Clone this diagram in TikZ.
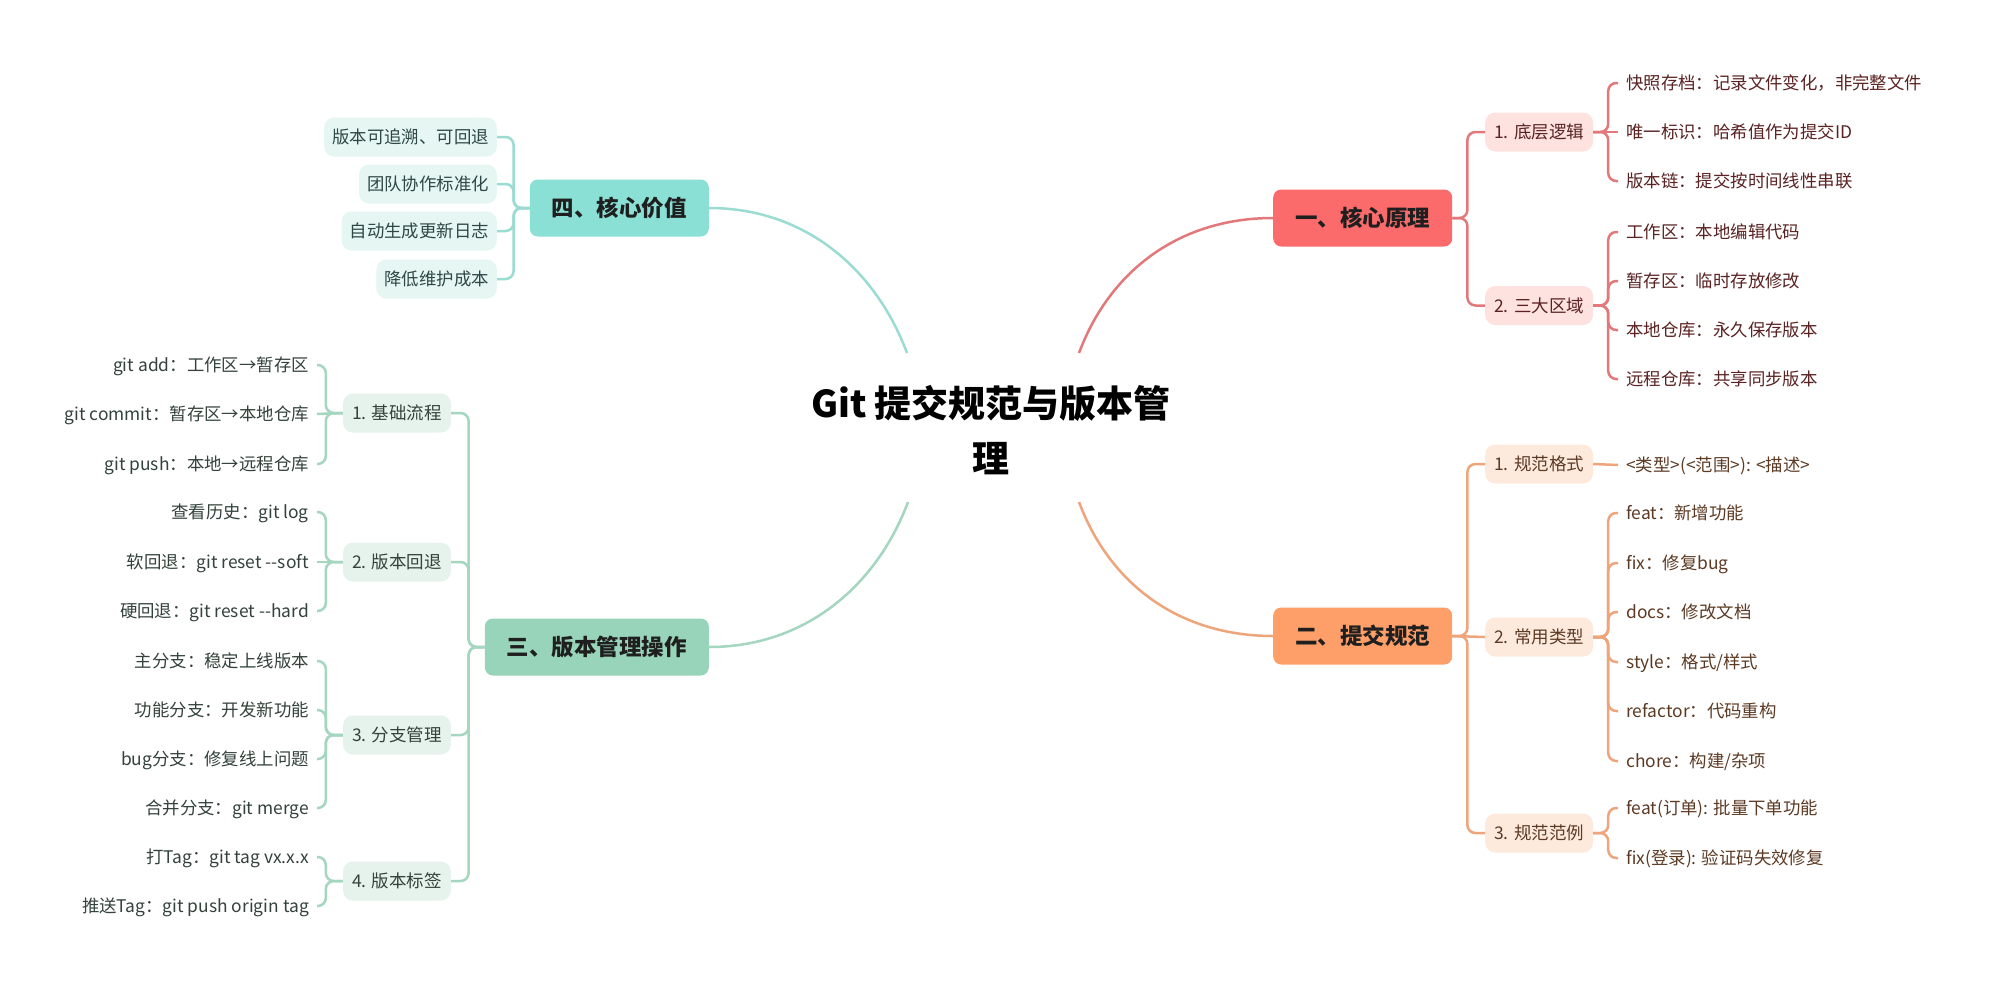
\documentclass[tikz,border=0pt]{standalone}
\usepackage{fontspec}
\setmainfont{Noto Sans CJK SC}
\usepackage{xcolor}
\usetikzlibrary{positioning, calc}
\definecolor{redmain}{HTML}{FC6B6B}
\definecolor{redsub}{HTML}{FDE2E0}
\definecolor{redwire}{HTML}{E2787A}
\definecolor{redtext}{HTML}{5A2222}
\definecolor{orangemain}{HTML}{FE9F69}
\definecolor{orangesub}{HTML}{FDEADD}
\definecolor{orangewire}{HTML}{EEA57C}
\definecolor{orangetext}{HTML}{5C3A24}
\definecolor{tealmain}{HTML}{8AE0D5}
\definecolor{tealsub}{HTML}{E6F6F3}
\definecolor{tealwire}{HTML}{9ADCD2}
\definecolor{tealtext}{HTML}{2E4845}
\definecolor{greenmain}{HTML}{98D4B9}
\definecolor{greensub}{HTML}{E6F3EC}
\definecolor{greenwire}{HTML}{A4D6C0}
\definecolor{greentext}{HTML}{33423B}
\tikzset{
    root/.style={font=\fontsize{37}{55}\selectfont\bfseries, align=center, text=black},
    branch/.style={rounded corners=8pt, minimum height=57pt, inner xsep=22pt, inner ysep=0pt, text height=19pt, text depth=2pt, font=\fontsize{22.5}{27}\selectfont\bfseries, text=black!88},
    topic/.style={rounded corners=10pt, minimum height=39pt, inner xsep=9pt, inner ysep=0pt, text height=15pt, text depth=2pt, font=\fontsize{17.5}{21}\selectfont},
    leaf/.style={rounded corners=10pt, minimum height=39pt, inner xsep=8pt, inner ysep=0pt, text height=15pt, text depth=2pt, font=\fontsize{17.4}{21}\selectfont},
    redlink/.style={draw=redwire, line width=2.5pt, rounded corners=8pt},
    orangelink/.style={draw=orangewire, line width=2.5pt, rounded corners=8pt},
    teallink/.style={draw=tealwire, line width=2.5pt, rounded corners=8pt},
    greenlink/.style={draw=greenwire, line width=2.5pt, rounded corners=8pt}
}
\begin{document}
\begin{tikzpicture}[x=1pt, y=-1pt]
\path[use as bounding box, fill=white] (0,0) rectangle (1993,983);

% Central topic
\node[root] (core) at (991,430) {Git 提交规范与版本管\\理};
\coordinate (c1) at (1079,353);
\coordinate (c2) at (1079,502);
\coordinate (c3) at (907,353);
\coordinate (c4) at (908,502);

% Branch 1: core principle
\node[branch, fill=redmain, anchor=west] (b1) at (1273,218) {一、核心原理};
\node[topic, fill=redsub, text=redtext, anchor=west] (b1a) at (1485,132) {1. 底层逻辑};
\node[topic, fill=redsub, text=redtext, anchor=west] (b1b) at (1485,305.5) {2. 三大区域};
\node[leaf, text=redtext, anchor=west] (r1) at (1618,83) {快照存档：记录文件变化，非完整文件};
\node[leaf, text=redtext, anchor=west] (r2) at (1618,132) {唯一标识：哈希值作为提交ID};
\node[leaf, text=redtext, anchor=west] (r3) at (1618,181) {版本链：提交按时间线性串联};
\node[leaf, text=redtext, anchor=west] (r4) at (1618,232) {工作区：本地编辑代码};
\node[leaf, text=redtext, anchor=west] (r5) at (1618,281) {暂存区：临时存放修改};
\node[leaf, text=redtext, anchor=west] (r6) at (1618,330) {本地仓库：永久保存版本};
\node[leaf, text=redtext, anchor=west] (r7) at (1618,379) {远程仓库：共享同步版本};

\draw[redlink] (c1) .. controls (1110,270) and (1180,218) .. (b1.west);
\draw[redlink] (b1.east) -- +(15,0) |- (b1a.west);
\draw[redlink] (b1.east) -- +(15,0) |- (b1b.west);
\draw[redlink] (b1a.east) -- +(15,0) |- (r1.west);
\draw[redlink] (b1a.east) -- (r2.west);
\draw[redlink] (b1a.east) -- +(15,0) |- (r3.west);
\draw[redlink] (b1b.east) -- +(15,0) |- (r4.west);
\draw[redlink] (b1b.east) -- +(15,0) |- (r5.west);
\draw[redlink] (b1b.east) -- +(15,0) |- (r6.west);
\draw[redlink] (b1b.east) -- +(15,0) |- (r7.west);

% Branch 2: commit convention
\node[branch, fill=orangemain, anchor=west] (b2) at (1273,636) {二、提交规范};
\node[topic, fill=orangesub, text=orangetext, anchor=west] (b2a) at (1485,464) {1. 规范格式};
\node[topic, fill=orangesub, text=orangetext, anchor=west] (b2b) at (1485,637) {2. 常用类型};
\node[topic, fill=orangesub, text=orangetext, anchor=west] (b2c) at (1485,833) {3. 规范范例};
\node[leaf, text=orangetext, anchor=west] (o1) at (1618,465) {<类型>(<范围>): <描述>};
\node[leaf, text=orangetext, anchor=west] (o2) at (1618,513) {feat：新增功能};
\node[leaf, text=orangetext, anchor=west] (o3) at (1618,563) {fix：修复bug};
\node[leaf, text=orangetext, anchor=west] (o4) at (1618,612) {docs：修改文档};
\node[leaf, text=orangetext, anchor=west] (o5) at (1618,662) {style：格式/样式};
\node[leaf, text=orangetext, anchor=west] (o6) at (1618,711) {refactor：代码重构};
\node[leaf, text=orangetext, anchor=west] (o7) at (1618,761) {chore：构建/杂项};
\node[leaf, text=orangetext, anchor=west] (o8) at (1618,808) {feat(订单): 批量下单功能};
\node[leaf, text=orangetext, anchor=west] (o9) at (1618,858) {fix(登录): 验证码失效修复};

\draw[orangelink] (c2) .. controls (1110,585) and (1180,636) .. (b2.west);
\draw[orangelink] (b2.east) -- +(15,0) |- (b2a.west);
\draw[orangelink] (b2.east) -- (b2b.west);
\draw[orangelink] (b2.east) -- +(15,0) |- (b2c.west);
\draw[orangelink] (b2a.east) -- (o1.west);
\draw[orangelink] (b2b.east) -- +(15,0) |- (o2.west);
\draw[orangelink] (b2b.east) -- +(15,0) |- (o3.west);
\draw[orangelink] (b2b.east) -- +(15,0) |- (o4.west);
\draw[orangelink] (b2b.east) -- +(15,0) |- (o5.west);
\draw[orangelink] (b2b.east) -- +(15,0) |- (o6.west);
\draw[orangelink] (b2b.east) -- +(15,0) |- (o7.west);
\draw[orangelink] (b2c.east) -- +(15,0) |- (o8.west);
\draw[orangelink] (b2c.east) -- +(15,0) |- (o9.west);

% Branch 4: core value
\node[branch, fill=tealmain, anchor=east] (b4) at (709,208) {四、核心价值};
\node[leaf, fill=tealsub, text=tealtext, anchor=east] (t1) at (497,137) {版本可追溯、可回退};
\node[leaf, fill=tealsub, text=tealtext, anchor=east] (t2) at (497,184) {团队协作标准化};
\node[leaf, fill=tealsub, text=tealtext, anchor=east] (t3) at (497,231) {自动生成更新日志};
\node[leaf, fill=tealsub, text=tealtext, anchor=east] (t4) at (497,279) {降低维护成本};

\draw[teallink] (c3) .. controls (876,270) and (806,208) .. (b4.east);
\draw[teallink] (b4.west) -- +(-16,0) |- (t1.east);
\draw[teallink] (b4.west) -- +(-16,0) |- (t2.east);
\draw[teallink] (b4.west) -- +(-16,0) |- (t3.east);
\draw[teallink] (b4.west) -- +(-16,0) |- (t4.east);

% Branch 3: version operations
\node[branch, fill=greenmain, anchor=east] (b3) at (709,647) {三、版本管理操作};
\node[topic, fill=greensub, text=greentext, anchor=east] (b3a) at (451,413) {1. 基础流程};
\node[topic, fill=greensub, text=greentext, anchor=east] (b3b) at (451,562) {2. 版本回退};
\node[topic, fill=greensub, text=greentext, anchor=east] (b3c) at (451,735) {3. 分支管理};
\node[topic, fill=greensub, text=greentext, anchor=east] (b3d) at (451,881) {4. 版本标签};
\node[leaf, text=greentext, anchor=east] (g1) at (317,365) {git add：工作区→暂存区};
\node[leaf, text=greentext, anchor=east] (g2) at (317,414) {git commit：暂存区→本地仓库};
\node[leaf, text=greentext, anchor=east] (g3) at (317,464) {git push：本地→远程仓库};
\node[leaf, text=greentext, anchor=east] (g4) at (317,512) {查看历史：git log};
\node[leaf, text=greentext, anchor=east] (g5) at (317,562) {软回退：git reset -{}-soft};
\node[leaf, text=greentext, anchor=east] (g6) at (317,611) {硬回退：git reset -{}-hard};
\node[leaf, text=greentext, anchor=east] (g7) at (317,661) {主分支：稳定上线版本};
\node[leaf, text=greentext, anchor=east] (g8) at (317,710) {功能分支：开发新功能};
\node[leaf, text=greentext, anchor=east] (g9) at (317,759) {bug分支：修复线上问题};
\node[leaf, text=greentext, anchor=east] (g10) at (317,808) {合并分支：git merge};
\node[leaf, text=greentext, anchor=east] (g11) at (317,857) {打Tag：git tag vx.x.x};
\node[leaf, text=greentext, anchor=east] (g12) at (317,906) {推送Tag：git push origin tag};

\draw[greenlink] (c4) .. controls (877,585) and (806,647) .. (b3.east);
\draw[greenlink] (b3.west) -- +(-16,0) |- (b3a.east);
\draw[greenlink] (b3.west) -- +(-16,0) |- (b3b.east);
\draw[greenlink] (b3.west) -- +(-16,0) |- (b3c.east);
\draw[greenlink] (b3.west) -- +(-16,0) |- (b3d.east);
\draw[greenlink] (b3a.west) -- +(-17,0) |- (g1.east);
\draw[greenlink] (b3a.west) -- (g2.east);
\draw[greenlink] (b3a.west) -- +(-17,0) |- (g3.east);
\draw[greenlink] (b3b.west) -- +(-17,0) |- (g4.east);
\draw[greenlink] (b3b.west) -- (g5.east);
\draw[greenlink] (b3b.west) -- +(-17,0) |- (g6.east);
\draw[greenlink] (b3c.west) -- +(-17,0) |- (g7.east);
\draw[greenlink] (b3c.west) -- +(-17,0) |- (g8.east);
\draw[greenlink] (b3c.west) -- +(-17,0) |- (g9.east);
\draw[greenlink] (b3c.west) -- +(-17,0) |- (g10.east);
\draw[greenlink] (b3d.west) -- +(-17,0) |- (g11.east);
\draw[greenlink] (b3d.west) -- +(-17,0) |- (g12.east);
\end{tikzpicture}
\end{document}
